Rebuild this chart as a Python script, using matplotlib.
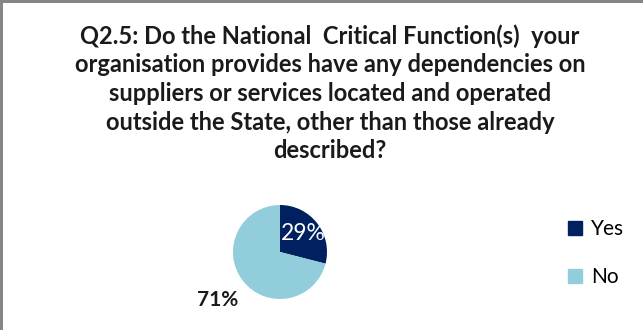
import matplotlib
matplotlib.use("Agg")
import matplotlib.pyplot as plt
from matplotlib.patches import Rectangle
from matplotlib.lines import Line2D
import numpy as np

categories = ["Yes", "No"]
values = [29, 71]
colors = ["#002060", "#92CDDC"]
title_text = ("Q2.5: Do the National  Critical Function(s)  your\n"
              "organisation provides have any dependencies on\n"
              "suppliers or services located and operated\n"
              "outside the State, other than those already\n"
              "described?")

W, H = 643, 330
fig = plt.figure(figsize=(W / 100, H / 100), dpi=100)
fig.patch.set_facecolor("white")

# border (top and left visible)
fig.add_artist(Rectangle((0, 1 - 2.5 / H), 1, 2.5 / H, transform=fig.transFigure,
                         facecolor="#868686", edgecolor="none"))
fig.add_artist(Rectangle((0, 0), 3 / W, 1, transform=fig.transFigure,
                         facecolor="#868686", edgecolor="none"))

fig.text(330 / W, 1 - 24 / H, title_text, ha="center", va="top",
         fontsize=17, fontweight="bold", family="Lato", color="#1a1a1a",
         linespacing=1.3)

cx, cy, r = 280, 252, 47
ax = fig.add_axes([(cx - r) / W, (H - cy - r) / H, 2 * r / W, 2 * r / H])
wedges, _ = ax.pie(values, colors=colors, startangle=90, counterclock=False,
                   radius=1.0)
ax.set_xlim(-1, 1)
ax.set_ylim(-1, 1)
ax.set_aspect("auto")
ax.axis("off")

label_dist = [0.64, 1.68]
label_color = ["white", "#1a1a1a"]
label_weight = ["normal", "bold"]
label_size = [16.5, 15]
for w, v, d, c, fw, fs in zip(wedges, values, label_dist, label_color,
                              label_weight, label_size):
    th = np.deg2rad((w.theta1 + w.theta2) / 2)
    ax.text(d * np.cos(th), d * np.sin(th), f"{v}%", ha="center", va="center",
            fontsize=fs, color=c, fontweight=fw, family="Lato", clip_on=False)

handles = [Line2D([0], [0], marker="s", linestyle="none", markersize=9.5,
                  markerfacecolor=c, markeredgecolor=c) for c in colors]
fig.legend(handles, categories, loc="center left",
           bbox_to_anchor=(547 / W, 1 - 253 / H), frameon=False,
           prop={"family": "Lato", "size": 15}, handletextpad=0.3,
           labelspacing=1.35, handlelength=0.9)

fig.savefig("out.png", dpi=100, facecolor="white")
